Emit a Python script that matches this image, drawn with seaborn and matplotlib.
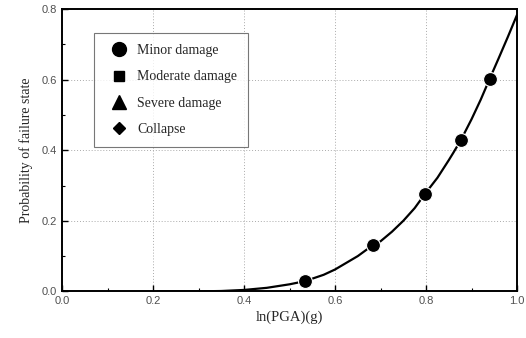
import numpy as np
import pandas as pd
import seaborn as sns
import matplotlib.pyplot as plt
from matplotlib.lines import Line2D
from matplotlib.ticker import MultipleLocator

# fitted fragility curve
curve_x = [0.21, 0.30, 0.35, 0.40, 0.45, 0.50, 0.534, 0.575, 0.60, 0.65, 0.684,
           0.70, 0.725, 0.75, 0.775, 0.798, 0.825, 0.85, 0.86, 0.877, 0.90,
           0.92, 0.94, 0.96, 0.98, 1.00]
curve_y = [0.000, 0.000, 0.001, 0.004, 0.010, 0.020, 0.029, 0.047, 0.062, 0.100, 0.132,
           0.142, 0.169, 0.200, 0.236, 0.277, 0.322, 0.372, 0.393, 0.430, 0.488,
           0.543, 0.603, 0.662, 0.722, 0.784]

# minor damage data points
pts_x = [0.534, 0.684, 0.798, 0.877, 0.940]
pts_y = [0.029, 0.132, 0.277, 0.430, 0.603]

# other damage states stay near zero
flat_x = [0.20, 1.00]
flat_y = [0.0, 0.0]

states = ["Minor damage", "Moderate damage", "Severe damage", "Collapse"]
state_markers = ["o", "s", "^", "D"]
state_sizes = [10, 6.5, 10, 6.5]

sns.set_style("ticks")
plt.rcParams["font.family"] = ["Liberation Sans", "DejaVu Sans"]

fig = plt.figure(figsize=(5.26, 3.38), dpi=100)
ax = fig.add_axes([0.118, 0.138, 0.865, 0.835])

curve = pd.DataFrame({"x": curve_x, "y": curve_y})
pts = pd.DataFrame({"x": pts_x, "y": pts_y})
flat = pd.DataFrame({"x": flat_x, "y": flat_y})

sns.lineplot(data=flat, x="x", y="y", ax=ax, color="#999999", lw=1.0,
             linestyle=(0, (4, 2)), zorder=2)
sns.lineplot(data=curve, x="x", y="y", ax=ax, color="black", lw=1.6, zorder=3)
sns.scatterplot(data=pts, x="x", y="y", ax=ax, color="black", s=100,
                edgecolor="white", linewidth=0.8, zorder=4)

ax.set_xlim(0, 1.0)
ax.set_ylim(0, 0.8)
ax.xaxis.set_major_locator(MultipleLocator(0.2))
ax.yaxis.set_major_locator(MultipleLocator(0.2))
ax.xaxis.set_minor_locator(MultipleLocator(0.1))
ax.yaxis.set_minor_locator(MultipleLocator(0.1))
ax.tick_params(which="both", direction="in", top=False, right=False,
               labelsize=8, labelcolor="#505050", color="black")
ax.tick_params(which="major", length=4, width=1)
ax.tick_params(which="minor", length=2.5, width=0.8)
ax.grid(True, which="major", color="#aaaaaa", linestyle=(0, (1, 2)), lw=0.7)
for s in ax.spines.values():
    s.set_linewidth(1.4)
    s.set_color("black")

ax.set_xlabel("ln(PGA)(g)", family=["Liberation Serif"], fontsize=10.5, labelpad=3)
ax.set_ylabel("Probability of failure state", family=["Liberation Serif"],
              fontsize=10, labelpad=6)

handles = [Line2D([], [], marker=m, color="black", linestyle="none", markersize=sz)
           for m, sz in zip(state_markers, state_sizes)]
leg = ax.legend(handles, states, loc="upper left", bbox_to_anchor=(0.07, 0.915),
                prop={"family": "Liberation Serif", "size": 10}, frameon=True,
                fancybox=False, edgecolor="#555555", labelspacing=0.95,
                borderpad=0.8, handletextpad=0.3, borderaxespad=0)
leg.get_frame().set_linewidth(0.8)

fig.savefig("out.png", dpi=100)
